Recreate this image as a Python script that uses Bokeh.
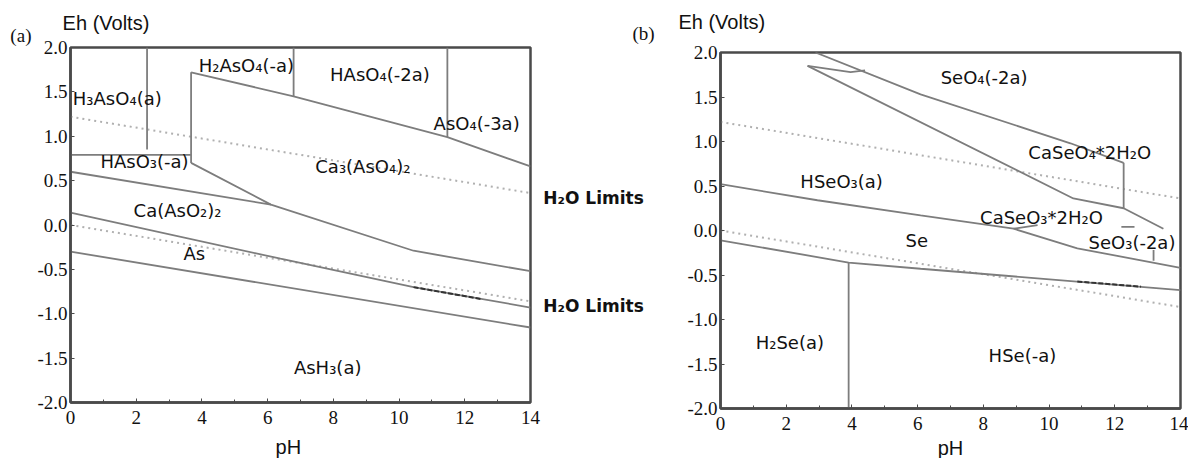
from bokeh.plotting import figure
from bokeh.layouts import row, column
from bokeh.models import Label, FixedTicker, Range1d
from bokeh.core.properties import value
from bokeh.embed import file_html
from bokeh.resources import INLINE

# ---------------- data ----------------
x_ticks = [0, 2, 4, 6, 8, 10, 12, 14]
x_tick_labels = ["0", "2", "4", "6", "8", "10", "12", "14"]
x_minor = [1, 3, 5, 7, 9, 11, 13]
y_ticks = [-2.0, -1.5, -1.0, -0.5, 0.0, 0.5, 1.0, 1.5, 2.0]
y_tick_labels = ["-2.0", "-1.5", "-1.0", "-0.5", "0.0", "0.5", "1.0", "1.5", "2.0"]

# water stability limits
h2o_ph = [0, 14]
h2o_upper_eh = [1.22, 0.36]
h2o_lower_eh = [0.0, -0.86]
h2o_label_eh = [0.30, -0.91]
h2o_label_text = "H₂O Limits"

# panel (a): As system boundaries (pH, Eh)
a_b1_ph, a_b1_eh = [2.33, 2.33], [2.0, 0.85]
a_b2_ph, a_b2_eh = [0, 3.67], [0.79, 0.79]
a_b3_ph, a_b3_eh = [3.67, 3.67], [1.72, 0.70]
a_b4_ph, a_b4_eh = [3.67, 6.79, 11.47, 14], [1.72, 1.45, 0.99, 0.66]
a_b5_ph, a_b5_eh = [6.79, 6.79], [2.0, 1.45]
a_b6_ph, a_b6_eh = [11.47, 11.47], [2.0, 0.99]
a_b7_ph, a_b7_eh = [0, 6.1], [0.60, 0.23]
a_b8_ph, a_b8_eh = [3.67, 6.1, 10.44, 14], [0.70, 0.23, -0.29, -0.52]
a_b9_ph, a_b9_eh = [0, 6.39, 10.44, 14], [0.14, -0.38, -0.70, -0.93]
a_b10_ph, a_b10_eh = [0, 14], [-0.30, -1.155]
a_dash_ph, a_dash_eh = [10.44, 12.5], [-0.70, -0.834]

a_labels = ["H₃AsO₄(a)", "H₂AsO₄(-a)", "HAsO₄(-2a)", "AsO₄(-3a)", "HAsO₃(-a)",
            "Ca₃(AsO₄)₂", "Ca(AsO₂)₂", "As", "AsH₃(a)"]
a_label_ph = [0.07, 3.9, 7.9, 11.05, 0.91, 7.45, 1.92, 3.44, 6.8]
a_label_eh = [1.42, 1.80, 1.70, 1.14, 0.72, 0.66, 0.16, -0.32, -1.60]

# panel (b): Se system boundaries (pH, Eh)
b_b1_ph, b_b1_eh = [2.89, 6.09, 10.65, 12.27], [2.0, 1.53, 0.98, 0.76]
b_b2_ph, b_b2_eh = [2.65, 3.96, 4.4], [1.85, 1.78, 1.80]
b_b3_ph, b_b3_eh = [2.65, 10.74, 12.27, 13.48], [1.85, 0.36, 0.25, 0.02]
b_b4_ph, b_b4_eh = [12.27, 12.27], [0.76, 0.25]
b_b5_ph, b_b5_eh = [0, 2.95, 6.09, 8.92, 10.86, 14], [0.52, 0.34, 0.17, 0.02, -0.20, -0.42]
b_b6_ph, b_b6_eh = [8.92, 9.65], [0.02, 0.06]
b_b7_ph, b_b7_eh = [12.2, 12.6], [0.04, 0.04]
b_b8_ph, b_b8_eh = [13.18, 13.18], [-0.22, -0.34]
b_b9_ph, b_b9_eh = [0, 3.9, 6.09, 14], [-0.11, -0.36, -0.43, -0.67]
b_b10_ph, b_b10_eh = [3.9, 3.9], [-0.36, -2.0]
b_dash_ph, b_dash_eh = [10.86, 12.8], [-0.573, -0.631]

b_labels = ["SeO₄(-2a)", "CaSeO₄*2H₂O", "HSeO₃(a)", "CaSeO₃*2H₂O", "Se",
            "SeO₃(-2a)", "H₂Se(a)", "HSe(-a)"]
b_label_ph = [6.7, 9.37, 2.43, 7.9, 5.63, 11.2, 1.07, 8.16]
b_label_eh = [1.72, 0.88, 0.55, 0.15, -0.11, -0.13, -1.26, -1.40]

panel_tags = ["(a)", "(b)"]
y_title = "Eh (Volts)"
x_title = "pH"

# ---------------- styling / geometry ----------------
LINE = "#7d7d7d"
FRAME = "#4a4a4a"
DOT = "#b0b0b0"
INK = "#111111"
SERIF = "Liberation Serif"
SANS = "Liberation Sans"
LAB = "DejaVu Sans"
W, H = 1188, 458
PPX = 460 / 14.0                 # pixels per pH unit
A_LEFT, A_TOP, A_PPE = 70, 47, 355 / 4.0
B_LEFT, B_TOP, B_PPE = 720, 52, 356 / 4.0


def no_align(p):
    if "frame_align" in p.properties():
        p.frame_align = False


def make_fig(width, bl, br, bt, bb):
    p = figure(width=width, height=H, x_range=Range1d(0, 14), y_range=Range1d(-2, 2),
               output_backend="svg", toolbar_location=None,
               min_border_left=bl, min_border_right=br, min_border_top=bt, min_border_bottom=bb)
    no_align(p)
    p.grid.visible = False
    p.outline_line_color = FRAME
    p.outline_line_width = 2.5
    p.xaxis.ticker = FixedTicker(ticks=x_ticks, minor_ticks=x_minor)
    p.yaxis.ticker = FixedTicker(ticks=y_ticks)
    p.xaxis.major_label_overrides = {t: l for t, l in zip(x_ticks, x_tick_labels)}
    p.yaxis.major_label_overrides = {t: l for t, l in zip(y_ticks, y_tick_labels)}
    for ax in (p.xaxis[0], p.yaxis[0]):
        ax.axis_line_color = FRAME
        ax.axis_line_width = 2.5
        ax.major_tick_in = 4
        ax.major_tick_out = 0
        ax.minor_tick_in = 3
        ax.minor_tick_out = 0
        ax.major_tick_line_color = FRAME
        ax.minor_tick_line_color = FRAME
        ax.major_label_text_font = SERIF
        ax.major_label_text_font_size = "19px"
        ax.major_label_text_color = INK
    p.xaxis.major_label_standoff = 8
    p.yaxis.major_label_standoff = 3
    p.line(h2o_ph, h2o_upper_eh, line_color=DOT, line_width=2, line_dash="2 4")
    p.line(h2o_ph, h2o_lower_eh, line_color=DOT, line_width=2, line_dash="2 4")
    return p


def add_label(p, x, y, text, size):
    p.add_layout(Label(x=x, y=y, text=text, text_font=LAB, text_font_size=size,
                       text_align="left", text_baseline="middle", text_color=INK))


# ---------------- panel (a) ----------------
pa = make_fig(660, 70, 130, 47, 56)
for xs, ys in [(a_b1_ph, a_b1_eh), (a_b2_ph, a_b2_eh), (a_b3_ph, a_b3_eh), (a_b4_ph, a_b4_eh),
               (a_b5_ph, a_b5_eh), (a_b6_ph, a_b6_eh), (a_b7_ph, a_b7_eh), (a_b8_ph, a_b8_eh),
               (a_b9_ph, a_b9_eh), (a_b10_ph, a_b10_eh)]:
    pa.line(xs, ys, line_color=LINE, line_width=1.8)
pa.line(a_dash_ph, a_dash_eh, line_color="#333333", line_width=2, line_dash="5 2")
for t, x, y in zip(a_labels, a_label_ph, a_label_eh):
    add_label(pa, x, y, t, "18px")

# ---------------- panel (b) ----------------
pb = make_fig(528, 60, 8, 52, 50)
for xs, ys in [(b_b1_ph, b_b1_eh), (b_b2_ph, b_b2_eh), (b_b3_ph, b_b3_eh), (b_b4_ph, b_b4_eh),
               (b_b5_ph, b_b5_eh), (b_b6_ph, b_b6_eh), (b_b7_ph, b_b7_eh), (b_b8_ph, b_b8_eh),
               (b_b9_ph, b_b9_eh), (b_b10_ph, b_b10_eh)]:
    pb.line(xs, ys, line_color=LINE, line_width=1.8)
pb.line(b_dash_ph, b_dash_eh, line_color="#333333", line_width=2, line_dash="5 2")
for t, x, y in zip(b_labels, b_label_ph, b_label_eh):
    add_label(pb, x, y, t, "18px")

# ---------------- text layer over the whole page (titles outside the frames) ----------------
layer = figure(width=W, height=H, x_range=Range1d(0, W), y_range=Range1d(H, 0),
               output_backend="svg", toolbar_location=None, min_border=0,
               x_axis_location=None, y_axis_location=None, margin=(-H, 0, 0, 0))
no_align(layer)
layer.grid.visible = False
layer.outline_line_color = None
layer.background_fill_color = None
layer.border_fill_color = None


def layer_text(left, top, ppe, ph, eh, text, font, size, align="left", style="normal"):
    layer.text(x=[left + ph * PPX], y=[top + (2.0 - eh) * ppe], text=[text],
               text_font=value(font), text_font_size=size, text_font_style=style,
               text_baseline="middle", text_align=align, text_color=INK)


layer_text(A_LEFT, A_TOP, A_PPE, -1.83, 2.14, panel_tags[0], SERIF, "19px")
layer_text(A_LEFT, A_TOP, A_PPE, -0.24, 2.28, y_title, SANS, "20px")
layer_text(A_LEFT, A_TOP, A_PPE, 6.63, -2.507, x_title, SANS, "20px", align="center")
for eh in h2o_label_eh:
    layer_text(A_LEFT, A_TOP, A_PPE, 14.39, eh, h2o_label_text, LAB, "17px", style="bold")
layer_text(B_LEFT, B_TOP, B_PPE, -2.68, 2.21, panel_tags[1], SERIF, "19px")
layer_text(B_LEFT, B_TOP, B_PPE, -1.28, 2.34, y_title, SANS, "20px")
layer_text(B_LEFT, B_TOP, B_PPE, 7.0, -2.449, x_title, SANS, "20px", align="center")

layout = column(row(pa, pb), layer)
open("out.html", "w").write(file_html(layout, INLINE))
